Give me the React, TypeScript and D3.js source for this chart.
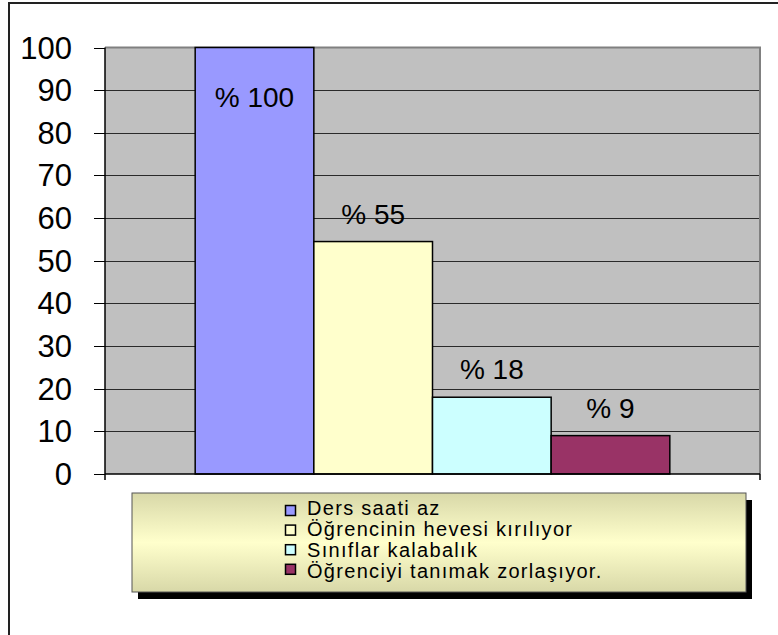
import React, { useRef, useEffect } from "react";
import * as d3 from "d3";

// chart data
const categories = [
  "Ders saati az",
  "Öğrencinin hevesi kırılıyor",
  "Sınıflar kalabalık",
  "Öğrenciyi tanımak zorlaşıyor.",
];
const values = [100, 54.5, 18, 9];
const valueLabels = ["% 100", "% 55", "% 18", "% 9"];
const colors = ["#9999ff", "#ffffcc", "#ccffff", "#993366"];
const yTicks = [0, 10, 20, 30, 40, 50, 60, 70, 80, 90, 100];

const App = () => {
  const svgRef = useRef<SVGSVGElement | null>(null);

  useEffect(() => {
    const width = 778;
    const height = 635;
    const plot = { left: 105, right: 760, top: 47.5, bottom: 474 };
    const font = "'Liberation Sans', Arial, sans-serif";

    const svg = d3.select(svgRef.current);
    svg.selectAll("*").remove();
    svg.attr("width", width).attr("height", height);

    // outer chart frame (runs off the right / bottom edge)
    svg.append("rect")
      .attr("x", 9).attr("y", 3)
      .attr("width", 900).attr("height", 800)
      .attr("fill", "#fff")
      .attr("stroke", "#222").attr("stroke-width", 2);

    const x = d3.scaleBand<string>()
      .domain(categories)
      .range([plot.left, plot.right])
      .paddingInner(0)
      .paddingOuter(0.76);
    const y = d3.scaleLinear().domain([0, 100]).range([plot.bottom, plot.top]);

    // plot background
    svg.append("rect")
      .attr("x", plot.left).attr("y", plot.top)
      .attr("width", plot.right - plot.left)
      .attr("height", plot.bottom - plot.top)
      .attr("fill", "#c0c0c0");

    // gridlines
    svg.append("g")
      .selectAll("line")
      .data(yTicks.filter(t => t > 0 && t < 100))
      .enter().append("line")
      .attr("x1", plot.left).attr("x2", plot.right)
      .attr("y1", d => Math.round(y(d)) + 0.5)
      .attr("y2", d => Math.round(y(d)) + 0.5)
      .attr("stroke", "#2a2a2a").attr("stroke-width", 1);

    // plot border top/right
    svg.append("path")
      .attr("d", `M${plot.left},${plot.top}H${plot.right}V${plot.bottom}`)
      .attr("fill", "none")
      .attr("stroke", "#808080").attr("stroke-width", 2);

    // bars
    svg.append("g")
      .selectAll("rect")
      .data(values)
      .enter().append("rect")
      .attr("x", (d, i) => x(categories[i]) as number)
      .attr("y", d => y(d))
      .attr("width", x.bandwidth())
      .attr("height", d => y(0) - y(d))
      .attr("fill", (d, i) => colors[i])
      .attr("stroke", "#000").attr("stroke-width", 1.5);

    // bar value labels
    svg.append("g")
      .selectAll("text")
      .data(values)
      .enter().append("text")
      .attr("x", (d, i) => (x(categories[i]) as number) + x.bandwidth() / 2)
      .attr("y", d => (y(d) - 47 < plot.top ? y(d) + 59 : y(d) - 18))
      .attr("text-anchor", "middle")
      .attr("font-family", font)
      .attr("font-size", 28)
      .attr("fill", "#000")
      .text((d, i) => valueLabels[i]);

    // axes
    svg.append("line")
      .attr("x1", plot.left).attr("x2", plot.left)
      .attr("y1", plot.top).attr("y2", plot.bottom + 6)
      .attr("stroke", "#000").attr("stroke-width", 1.5);
    svg.append("line")
      .attr("x1", plot.left).attr("x2", plot.right)
      .attr("y1", plot.bottom).attr("y2", plot.bottom)
      .attr("stroke", "#000").attr("stroke-width", 1.5);
    svg.append("line")
      .attr("x1", plot.right).attr("x2", plot.right)
      .attr("y1", plot.bottom).attr("y2", plot.bottom + 6)
      .attr("stroke", "#000").attr("stroke-width", 1.5);

    const ticks = svg.append("g");
    ticks.selectAll("line")
      .data(yTicks)
      .enter().append("line")
      .attr("x1", plot.left - 11).attr("x2", plot.left)
      .attr("y1", d => Math.round(y(d)) + 0.5)
      .attr("y2", d => Math.round(y(d)) + 0.5)
      .attr("stroke", "#000").attr("stroke-width", 1);
    ticks.selectAll("text")
      .data(yTicks)
      .enter().append("text")
      .attr("x", 72)
      .attr("y", d => y(d) + 11)
      .attr("text-anchor", "end")
      .attr("font-family", font)
      .attr("font-size", 31)
      .attr("fill", "#000")
      .text(d => d);

    // legend
    const legend = { x: 132, y: 493, w: 614, h: 99 };
    const defs = svg.append("defs");
    const grad = defs.append("linearGradient")
      .attr("id", "legendFill")
      .attr("x1", 0).attr("y1", 0).attr("x2", 0).attr("y2", 1);
    grad.append("stop").attr("offset", "0%").attr("stop-color", "#d8d8a8");
    grad.append("stop").attr("offset", "50%").attr("stop-color", "#ffffcc");
    grad.append("stop").attr("offset", "100%").attr("stop-color", "#d8d8a8");

    svg.append("rect")
      .attr("x", legend.x + 6).attr("y", legend.y + 7)
      .attr("width", legend.w).attr("height", legend.h)
      .attr("fill", "#000");
    svg.append("rect")
      .attr("x", legend.x).attr("y", legend.y)
      .attr("width", legend.w).attr("height", legend.h)
      .attr("fill", "url(#legendFill)")
      .attr("stroke", "#555").attr("stroke-width", 1);

    const items = svg.append("g");
    items.selectAll("rect")
      .data(categories)
      .enter().append("rect")
      .attr("x", 285.5)
      .attr("y", (d, i) => 505.5 + i * 19.6)
      .attr("width", 10).attr("height", 10)
      .attr("fill", (d, i) => colors[i])
      .attr("stroke", "#000").attr("stroke-width", 1.5);
    items.selectAll("text")
      .data(categories)
      .enter().append("text")
      .attr("x", 307)
      .attr("y", (d, i) => 514.5 + i * 21.2)
      .attr("font-family", font)
      .attr("font-size", 20)
      .attr("letter-spacing", 1.3)
      .attr("fill", "#000")
      .text(d => d);
  }, []);

  return (
    <div style={{ position: "absolute", left: 0, top: 0 }}>
      <svg ref={svgRef} style={{ display: "block" }}></svg>
    </div>
  );
};

export default App;
